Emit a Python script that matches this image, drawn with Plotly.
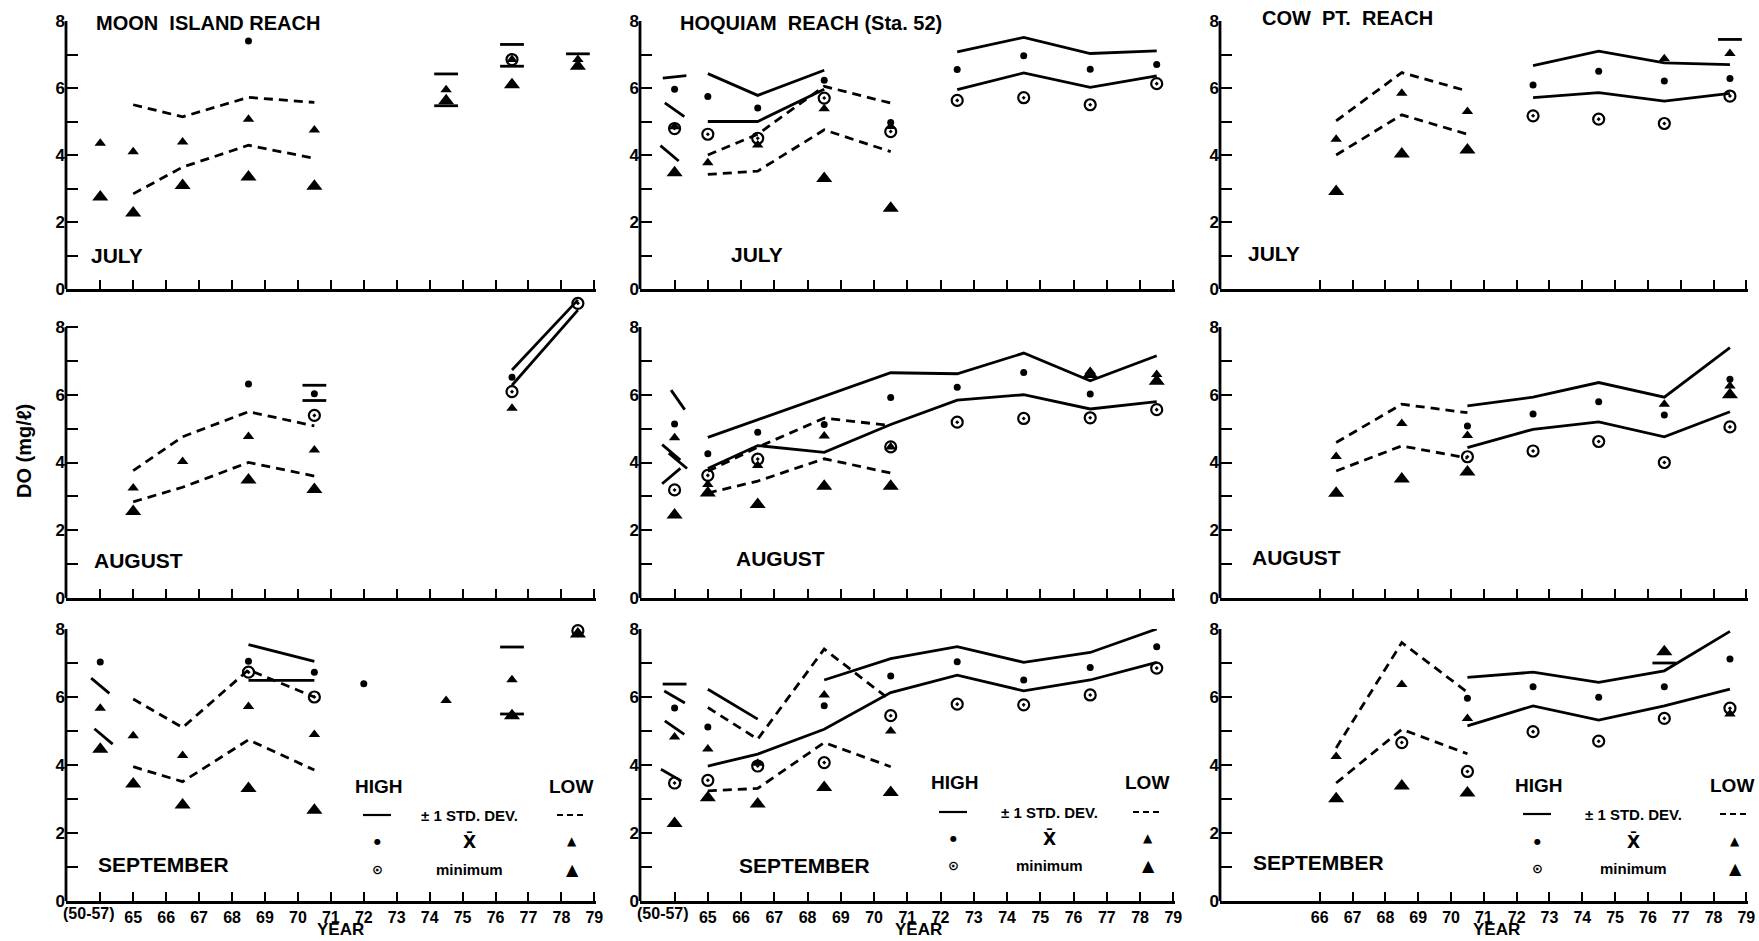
import plotly.graph_objects as go

N = None

# ---------------- DATA (DO, mg/l) ----------------
# x position 64 stands for the "(50-57)" group; other values are years 19xx
# ---- Moon Island Reach ----
MJ_X       = [64, 65, 66.5, 68.5, 70.5, 74.5, 76.5, 78.5]
MJ_HI_MEAN = [N, N, N, 7.40, N, N, N, N]
MJ_HI_MIN  = [N, N, N, N, N, N, 6.85, N]
MJ_LO_UP   = [N, 5.50, 5.14, 5.72, 5.57, N, N, N]
MJ_LO_LO   = [N, 2.84, 3.64, 4.29, 3.90, N, N, N]
MJ_LO_MEAN = [4.35, 4.10, 4.39, 5.07, 4.75, 5.95, 6.85, 6.85]
MJ_LO_MIN  = [2.75, 2.27, 3.09, 3.34, 3.07, 5.62, 6.10, 6.65]
MJ_HI_MARK_X = [76.5, 76.5, 78.5]
MJ_HI_MARK_Y = [7.30, 6.65, 7.02]
MJ_LO_MARK_X = [74.5, 74.5]
MJ_LO_MARK_Y = [6.42, 5.47]

MA_X       = [65, 66.5, 68.5, 70.5, 76.5, 78.5]
MA_HI_UP   = [N, N, N, N, 6.73, 8.80]
MA_HI_LO   = [N, N, N, N, 6.28, 8.50]
MA_HI_MEAN = [N, N, 6.32, 6.03, 6.52, N]
MA_HI_MIN  = [N, N, N, 5.39, 6.09, 8.70]
MA_LO_UP   = [3.76, 4.76, 5.50, 5.08, N, N]
MA_LO_LO   = [2.84, 3.27, 4.00, 3.60, N, N]
MA_LO_MEAN = [3.25, 4.03, 4.77, 4.37, 5.60, N]
MA_LO_MIN  = [2.55, N, 3.48, 3.20, N, N]
MA_HI_MARK_X = [70.5, 70.5]
MA_HI_MARK_Y = [6.28, 5.83]

MS_X       = [64, 65, 66.5, 68.5, 70.5, 72, 74.5, 76.5, 78.5]
MS_HI_UP   = [N, N, N, 7.54, 7.05, N, N, N, N]
MS_HI_LO   = [N, N, N, 6.49, 6.49, N, N, N, N]
MS_HI_MEAN = [7.03, N, N, 7.05, 6.73, 6.39, N, N, 8.18]
MS_HI_MIN  = [N, N, N, 6.73, 6.00, N, N, N, 7.95]
MS_LO_UP   = [N, 5.94, 5.10, 6.80, 6.00, N, N, N, N]
MS_LO_LO   = [N, 3.95, 3.51, 4.74, 3.85, N, N, N, N]
MS_LO_MEAN = [5.67, 4.86, 4.28, 5.72, 4.90, N, 5.90, 6.51, N]
MS_LO_MIN  = [4.46, 3.44, 2.82, 3.31, 2.67, N, N, 5.45, 7.85]
MS_HI_MARK_X = [78.5, 76.5]
MS_HI_MARK_Y = [8.57, 5.50]
MS_LO_MARK_X = [64, 64.1, 76.5]
MS_LO_MARK_Y = [6.33, 4.84, 7.47]

# ---- Hoquiam Reach (Sta. 52) ----
HJ_X       = [64, 65, 66.5, 68.5, 70.5, 72.5, 74.5, 76.5, 78.5]
HJ_HI_UP   = [N, 6.43, 5.78, 6.53, N, 7.08, 7.51, 7.03, 7.11]
HJ_HI_LO   = [N, 5.00, 5.00, 5.96, N, 5.95, 6.45, 6.02, 6.36]
HJ_HI_MEAN = [5.96, 5.75, 5.40, 6.23, 4.97, 6.55, 6.96, 6.56, 6.70]
HJ_HI_MIN  = [4.79, 4.62, 4.50, 5.70, 4.70, 5.63, 5.71, 5.50, 6.13]
HJ_LO_UP   = [N, 4.00, 4.62, 6.05, 5.55, N, N, N, N]
HJ_LO_LO   = [N, 3.42, 3.52, 4.75, 4.10, N, N, N, N]
HJ_LO_MEAN = [4.84, 3.77, 4.30, 5.38, 4.85, N, N, N, N]
HJ_LO_MIN  = [3.47, N, N, 3.30, 2.41, N, N, N, N]
HJ_HI_MARK_X = [64, 64]
HJ_HI_MARK_Y = [6.33, 5.35]
HJ_LO_MARK_X = [63.85]
HJ_LO_MARK_Y = [4.05]

HA_X       = [64, 65, 66.5, 68.5, 70.5, 72.5, 74.5, 76.5, 78.5]
HA_HI_UP   = [N, 4.74, 5.26, 5.95, 6.65, 6.62, 7.23, 6.41, 7.15]
HA_HI_LO   = [N, 3.82, 4.50, 4.30, 5.12, 5.84, 6.00, 5.58, 5.80]
HA_HI_MEAN = [5.14, 4.26, 4.89, 5.12, 5.92, 6.22, 6.66, 6.02, N]
HA_HI_MIN  = [3.19, 3.62, 4.10, N, 4.46, 5.19, 5.30, 5.32, 5.56]
HA_LO_UP   = [N, 3.74, 4.45, 5.31, 5.09, N, N, N, N]
HA_LO_LO   = [N, 3.10, 3.45, 4.11, 3.69, N, N, N, N]
HA_LO_MEAN = [4.73, 3.35, 3.91, 4.78, 4.46, N, N, 6.69, 6.60]
HA_LO_MIN  = [2.45, 3.10, 2.76, 3.30, 3.30, N, N, 6.60, 6.40]
HA_HI_MARK_X = [64.1, 63.9]
HA_HI_MARK_Y = [5.85, 4.30]
HA_LO_MARK_X = [64.1, 63.9]
HA_LO_MARK_Y = [4.05, 3.60]

HS_X          = [64, 65, 66.5, 68.5, 70.5, 72.5, 74.5, 76.5, 78.5]
HS_HI_UP_EARLY = [N, 6.23, 5.35, N, N, N, N, N, N]
HS_HI_UP      = [N, N, N, 6.50, 7.13, 7.48, 7.02, 7.31, 8.00]
HS_HI_LO      = [N, 3.97, 4.32, 5.05, 6.13, 6.64, 6.18, 6.50, 7.02]
HS_HI_MEAN    = [5.68, 5.12, N, 5.74, 6.62, 7.04, 6.50, 6.87, 7.48]
HS_HI_MIN     = [3.47, 3.55, 3.97, 4.07, 5.45, 5.79, 5.77, 6.06, 6.85]
HS_LO_UP      = [N, 5.69, 4.76, 7.41, 5.90, N, N, N, N]
HS_LO_LO      = [N, 3.24, 3.31, 4.66, 3.95, N, N, N, N]
HS_LO_MEAN    = [4.82, 4.47, 4.05, 6.06, 5.00, N, N, N, N]
HS_LO_MIN     = [2.28, 3.04, 2.85, 3.34, 3.19, N, N, N, N]
HS_HI_MARK_X = [64, 64]
HS_HI_MARK_Y = [6.38, 5.10]
HS_LO_MARK_X = [64, 63.9]
HS_LO_MARK_Y = [6.00, 3.70]

# ---- Cow Pt. Reach ----
CJ_X       = [66.5, 68.5, 70.5, 72.5, 74.5, 76.5, 78.5]
CJ_HI_UP   = [N, N, N, 6.67, 7.10, 6.75, 6.70]
CJ_HI_LO   = [N, N, N, 5.71, 5.86, 5.61, 5.84]
CJ_HI_MEAN = [N, N, N, 6.09, 6.50, 6.21, 6.28]
CJ_HI_MIN  = [N, N, N, 5.17, 5.07, 4.94, 5.76]
CJ_LO_UP   = [5.02, 6.46, 5.91, N, N, N, N]
CJ_LO_LO   = [4.00, 5.20, 4.62, N, N, N, N]
CJ_LO_MEAN = [4.47, 5.84, 5.30, N, N, 6.87, 7.03]
CJ_LO_MIN  = [2.91, 4.03, 4.15, N, N, N, N]
CJ_LO_MARK_X = [78.5]
CJ_LO_MARK_Y = [7.45]

CA_X       = [66.5, 68.5, 70.5, 72.5, 74.5, 76.5, 78.5]
CA_HI_UP   = [N, N, 5.67, 5.93, 6.36, 5.93, 7.39]
CA_HI_LO   = [N, N, 4.44, 4.98, 5.20, 4.76, 5.50]
CA_HI_MEAN = [N, N, 5.08, 5.43, 5.79, 5.40, 6.46]
CA_HI_MIN  = [N, N, 4.17, 4.34, 4.62, 4.00, 5.05]
CA_LO_UP   = [4.59, 5.72, 5.47, N, N, N, N]
CA_LO_LO   = [3.75, 4.49, 4.13, N, N, N, N]
CA_LO_MEAN = [4.18, 5.15, 4.80, N, N, 5.72, 6.26]
CA_LO_MIN  = [3.09, 3.51, 3.72, N, N, N, 6.00]

CS_X       = [66.5, 68.5, 70.5, 72.5, 74.5, 76.5, 78.5]
CS_HI_UP   = [N, N, 6.58, 6.73, 6.43, 6.77, 7.93]
CS_HI_LO   = [N, N, 5.15, 5.74, 5.32, 5.74, 6.23]
CS_HI_MEAN = [N, N, 5.96, 6.30, 5.99, 6.30, 7.12]
CS_HI_MIN  = [N, 4.66, 3.81, 4.98, 4.70, 5.37, 5.67]
CS_LO_UP   = [4.50, 7.60, 6.14, N, N, N, N]
CS_LO_LO   = [3.47, 5.05, 4.33, N, N, N, N]
CS_LO_MEAN = [4.25, 6.37, 5.37, N, N, 8.05, 5.50]
CS_LO_MIN  = [3.01, 3.38, 3.18, N, N, 7.33, N]
CS_LO_MARK_X = [76.5, 76.5]
CS_LO_MARK_Y = [7.00, 8.90]

REACHES = ["MOON  ISLAND REACH", "HOQUIAM  REACH (Sta. 52)", "COW  PT.  REACH"]
MONTHS = ["JULY", "AUGUST", "SEPTEMBER"]
TICK_YEARS = list(range(64, 80))          # 64 = "(50-57)"
TICK_TEXT = [""] + [str(y) for y in range(65, 80)]
Y_TICKS = list(range(0, 9))
Y_TEXT = ["0", "", "2", "", "4", "", "6", "", "8"]

# ---------------- LAYOUT ----------------
W, H = 1759, 941
BODY = 0                                   # page margin removed by post_script below
XR = [62.96, 79.05]
COLS = [(66, 596), (640, 1175), (1220, 1748)]      # screen px: y-axis, right end
ROWS = [(289, 21), (598, 327), (901, 629)]          # screen px: y of 0, y of 8
FONT = "Liberation Sans, Arial, sans-serif"


def PX(sx):
    return (sx - BODY) / W


def PY(sy):
    return 1 - (sy - BODY) / H


def bold(lst):
    return [f"<b>{t}</b>" if t else "" for t in lst]


def panel(x, hi_up=None, hi_lo=None, hi_mean=None, hi_min=None, lo_up=None,
          lo_lo=None, lo_mean=None, lo_min=None, hi_up2=None,
          hi_mark=None, lo_mark=None, hi_ang=None, lo_ang=None, ymax=8.0):
    return dict(x=x, hi_up=hi_up, hi_lo=hi_lo, hi_mean=hi_mean, hi_min=hi_min,
                lo_up=lo_up, lo_lo=lo_lo, lo_mean=lo_mean, lo_min=lo_min,
                hi_up2=hi_up2, hi_mark=hi_mark, lo_mark=lo_mark,
                hi_ang=hi_ang, lo_ang=lo_ang, ymax=ymax)

PANELS = {
    (0, 0): panel(MJ_X, hi_mean=MJ_HI_MEAN, hi_min=MJ_HI_MIN, lo_up=MJ_LO_UP, lo_lo=MJ_LO_LO,
                  lo_mean=MJ_LO_MEAN, lo_min=MJ_LO_MIN,
                  hi_mark=(MJ_HI_MARK_X, MJ_HI_MARK_Y), lo_mark=(MJ_LO_MARK_X, MJ_LO_MARK_Y)),
    (1, 0): panel(MA_X, MA_HI_UP, MA_HI_LO, MA_HI_MEAN, MA_HI_MIN, MA_LO_UP, MA_LO_LO,
                  MA_LO_MEAN, MA_LO_MIN, hi_mark=(MA_HI_MARK_X, MA_HI_MARK_Y), ymax=8.9),
    (2, 0): panel(MS_X, MS_HI_UP, MS_HI_LO, MS_HI_MEAN, MS_HI_MIN, MS_LO_UP, MS_LO_LO,
                  MS_LO_MEAN, MS_LO_MIN, hi_mark=(MS_HI_MARK_X, MS_HI_MARK_Y),
                  lo_mark=(MS_LO_MARK_X, MS_LO_MARK_Y), lo_ang=[40, 40, 0]),
    (0, 1): panel(HJ_X, HJ_HI_UP, HJ_HI_LO, HJ_HI_MEAN, HJ_HI_MIN, HJ_LO_UP, HJ_LO_LO,
                  HJ_LO_MEAN, HJ_LO_MIN, hi_mark=(HJ_HI_MARK_X, HJ_HI_MARK_Y),
                  lo_mark=(HJ_LO_MARK_X, HJ_LO_MARK_Y), hi_ang=[-6, 35], lo_ang=[40]),
    (1, 1): panel(HA_X, HA_HI_UP, HA_HI_LO, HA_HI_MEAN, HA_HI_MIN, HA_LO_UP, HA_LO_LO,
                  HA_LO_MEAN, HA_LO_MIN, hi_mark=(HA_HI_MARK_X, HA_HI_MARK_Y),
                  lo_mark=(HA_LO_MARK_X, HA_LO_MARK_Y), hi_ang=[55, 40], lo_ang=[40, -40]),
    (2, 1): panel(HS_X, HS_HI_UP, HS_HI_LO, HS_HI_MEAN, HS_HI_MIN, HS_LO_UP, HS_LO_LO,
                  HS_LO_MEAN, HS_LO_MIN, hi_up2=HS_HI_UP_EARLY,
                  hi_mark=(HS_HI_MARK_X, HS_HI_MARK_Y), lo_mark=(HS_LO_MARK_X, HS_LO_MARK_Y),
                  hi_ang=[0, 35], lo_ang=[30, 30]),
    (0, 2): panel(CJ_X, CJ_HI_UP, CJ_HI_LO, CJ_HI_MEAN, CJ_HI_MIN, CJ_LO_UP, CJ_LO_LO,
                  CJ_LO_MEAN, CJ_LO_MIN, lo_mark=(CJ_LO_MARK_X, CJ_LO_MARK_Y)),
    (1, 2): panel(CA_X, CA_HI_UP, CA_HI_LO, CA_HI_MEAN, CA_HI_MIN, CA_LO_UP, CA_LO_LO,
                  CA_LO_MEAN, CA_LO_MIN),
    (2, 2): panel(CS_X, CS_HI_UP, CS_HI_LO, CS_HI_MEAN, CS_HI_MIN, CS_LO_UP, CS_LO_LO,
                  CS_LO_MEAN, CS_LO_MIN, lo_mark=(CS_LO_MARK_X, CS_LO_MARK_Y)),
}

fig = go.Figure()
layout = dict(width=W, height=H, margin=dict(l=0, r=0, t=0, b=0, pad=0, autoexpand=False),
              template="none",
              paper_bgcolor="white", plot_bgcolor="rgba(0,0,0,0)", showlegend=False,
              font=dict(family=FONT, color="black"))
shapes, annotations = [], []
LW = 2.8
BLACK = "black"

for (r, c), p in PANELS.items():
    i = r * 3 + c + 1
    xa = "x" if i == 1 else f"x{i}"
    ya = "y" if i == 1 else f"y{i}"
    xk = "xaxis" if i == 1 else f"xaxis{i}"
    yk = "yaxis" if i == 1 else f"yaxis{i}"
    px0, px1 = COLS[c]
    y0, y8 = ROWS[r]
    ppu = (y0 - y8) / 8.0
    ytop = y0 - p["ymax"] * ppu
    tv = TICK_YEARS if c < 2 else TICK_YEARS[2:]
    tt = TICK_TEXT if c < 2 else TICK_TEXT[2:]
    layout[xk] = dict(domain=[PX(px0), PX(px1)], anchor=ya, range=XR, automargin=False,
                      tickvals=tv, ticktext=bold(tt), tickangle=0,
                      showticklabels=(r == 2), ticks="inside", ticklen=9, tickwidth=2.2,
                      tickcolor=BLACK, showline=True, linewidth=LW, linecolor=BLACK,
                      showgrid=False, zeroline=False,
                      tickfont=dict(size=16, family=FONT, color=BLACK))
    layout[yk] = dict(domain=[PY(y0), PY(ytop)], anchor=xa, range=[0, p["ymax"]],
                      automargin=False, tickvals=Y_TICKS, ticktext=bold(Y_TEXT),
                      ticks="inside", ticklen=12, tickwidth=2.2, tickcolor=BLACK,
                      showline=False, showgrid=False, zeroline=False,
                      tickfont=dict(size=17, family=FONT, color=BLACK))
    # y axis line 0..8
    shapes.append(dict(type="line", xref=f"{xa} domain", yref=ya, x0=0, x1=0, y0=0, y1=8,
                       line=dict(color=BLACK, width=LW)))
    x = p["x"]
    for key in ("hi_up", "hi_lo", "hi_up2"):
        if p[key] is not None:
            fig.add_trace(go.Scatter(x=x, y=p[key], mode="lines", xaxis=xa, yaxis=ya,
                                     connectgaps=False, line=dict(color=BLACK, width=LW)))
    for key in ("lo_up", "lo_lo"):
        if p[key] is not None:
            fig.add_trace(go.Scatter(x=x, y=p[key], mode="lines", xaxis=xa, yaxis=ya,
                                     connectgaps=False,
                                     line=dict(color=BLACK, width=LW, dash="9px,6px")))
    if p["hi_mean"] is not None:
        fig.add_trace(go.Scatter(x=x, y=p["hi_mean"], mode="markers", xaxis=xa, yaxis=ya,
                                 cliponaxis=False,
                                 marker=dict(symbol="circle", size=7, color=BLACK)))
    if p["hi_min"] is not None:
        fig.add_trace(go.Scatter(x=x, y=p["hi_min"], mode="markers", xaxis=xa, yaxis=ya,
                                 cliponaxis=False,
                                 marker=dict(symbol="circle-open-dot", size=11, color=BLACK,
                                             line=dict(width=2.2, color=BLACK))))
    if p["lo_mean"] is not None:
        fig.add_trace(go.Scatter(x=x, y=p["lo_mean"], mode="markers", xaxis=xa, yaxis=ya,
                                 cliponaxis=False,
                                 marker=dict(symbol="triangle-up", size=10, color=BLACK)))
    if p["lo_min"] is not None:
        fig.add_trace(go.Scatter(x=x, y=p["lo_min"], mode="markers", xaxis=xa, yaxis=ya,
                                 cliponaxis=False,
                                 marker=dict(symbol="triangle-up", size=14, color=BLACK)))
    for mk, ak in (("hi_mark", "hi_ang"), ("lo_mark", "lo_ang")):
        if p[mk] is not None:
            mx, my = p[mk]
            ang = p[ak] if p[ak] is not None else [0] * len(mx)
            fig.add_trace(go.Scatter(x=mx, y=my, mode="markers", xaxis=xa, yaxis=ya,
                                     cliponaxis=False,
                                     marker=dict(symbol="line-ew", size=17, angle=ang,
                                                 color=BLACK,
                                                 line=dict(width=LW, color=BLACK))))
    if r == 2 and c < 2:
        annotations.append(dict(text="<b>(50-57)</b>", xref=xa, yref="paper", x=63.65,
                                y=PY(913), showarrow=False, xanchor="center",
                                yanchor="middle", font=dict(size=16, family=FONT)))


def ann(text, xpx, ypx, size, xanchor="center", angle=0, family=FONT, yanchor="middle"):
    annotations.append(dict(text=text, xref="paper", yref="paper", x=PX(xpx),
                            y=PY(ypx), showarrow=False, xanchor=xanchor,
                            yanchor=yanchor, textangle=angle,
                            font=dict(size=size, family=family, color=BLACK)))

# titles
ann(f"<b>{REACHES[0]}</b>", 208, 23, 20)
ann(f"<b>{REACHES[1]}</b>", 811, 23, 20)
ann(f"<b>{REACHES[2]}</b>", 1347, 18, 20)
# months
MONTH_POS = [[(117, 256), (757, 255), (1274, 253)],
             [(138, 560), (780, 558), (1296, 557)],
             [(163, 864), (804, 865), (1318, 862)]]
for r in range(3):
    for c in range(3):
        ann(f"<b>{MONTHS[r]}</b>", MONTH_POS[r][c][0], MONTH_POS[r][c][1], 21)
# YEAR
for xp in (340, 918, 1496):
    ann("<b>YEAR</b>", xp, 940.5, 17, yanchor="bottom")
# y title
ann("<b>DO (mg/ℓ)</b>", 24, 451, 20, angle=-90)

# legends
LEG = [  # x_hi, x_mid, x_lo, y_head, y_sd, y_mean, y_min
    (377, 469, 572, 786, 815, 841, 869),
    (953, 1049, 1148, 782, 812, 838, 865),
    (1537, 1633, 1735, 785, 814, 841, 868),
]
for (xh, xm, xl, yh, ysd, ymn, ymi) in LEG:
    ann("<b>HIGH</b>", xh + 2, yh, 19)
    ann("<b>LOW</b>", min(xl + 23, 1756), yh, 19, xanchor="right")
    shapes.append(dict(type="line", xref="paper", yref="paper", x0=PX(xh - 14),
                       x1=PX(xh + 14), y0=PY(ysd), y1=PY(ysd),
                       line=dict(color=BLACK, width=2.2)))
    shapes.append(dict(type="line", xref="paper", yref="paper", x0=PX(xl - 15),
                       x1=PX(xl + 15), y0=PY(ysd), y1=PY(ysd),
                       line=dict(color=BLACK, width=2.2, dash="6px,4px")))
    ann("<b>± 1 STD. DEV.</b>", xm, ysd, 15)
    ann("<b>●</b>", xh, ymn, 8, family="DejaVu Sans")
    ann("<b>X̄</b>", xm, ymn, 17, family="DejaVu Sans")
    ann("▲", xl, ymn, 12, family="DejaVu Sans")
    ann("<b>⊙</b>", xh, ymi, 13, family="DejaVu Sans")
    ann("<b>minimum</b>", xm, ymi, 15)
    ann("▲", xl, ymi, 16, family="DejaVu Sans")

layout["shapes"] = shapes
layout["annotations"] = annotations
fig.update_layout(**layout)
fig.write_html("out.html", config={"displayModeBar": False},
               post_script="document.body.style.margin='0';"
                           "document.body.style.overflow='hidden';")
